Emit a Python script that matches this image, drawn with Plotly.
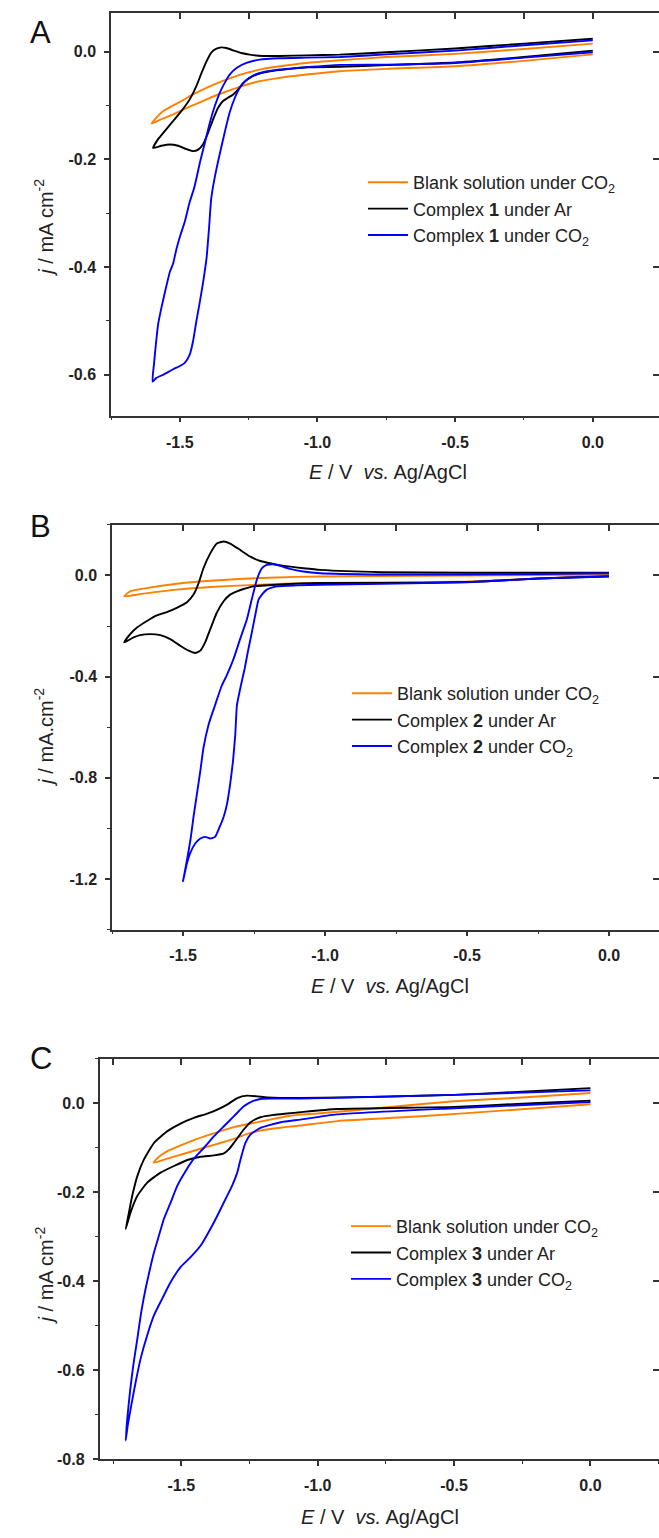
import plotly.graph_objects as go

# ---------------- DATA ----------------
# Panel A  (E in V vs Ag/AgCl, j in mA cm^-2)
a_blank_E = [0.0, -0.25, -0.5, -0.75, -0.919, -1.040, -1.137, -1.210, -1.282, -1.343, -1.403, -1.464, -1.524, -1.573, -1.603,
             -1.585, -1.560, -1.524, -1.488, -1.452, -1.403, -1.355, -1.306, -1.258, -1.198, -1.137, -1.040, -0.919, -0.75, -0.5, -0.25, 0.0]
a_blank_j = [-0.005, -0.017, -0.027, -0.032, -0.0363, -0.0425, -0.0486, -0.0548, -0.0653, -0.0763, -0.0886, -0.1022, -0.1163, -0.1268, -0.1336,
             -0.1225, -0.1102, -0.0997, -0.0899, -0.0794, -0.0671, -0.0566, -0.0474, -0.0394, -0.0320, -0.0271, -0.0209, -0.016, -0.010, -0.004, 0.005, 0.015]

a_ar_E = [0.0, -0.25, -0.5, -0.75, -0.919, -1.040, -1.101, -1.161, -1.210, -1.246, -1.270, -1.288, -1.306, -1.325, -1.343, -1.361, -1.379, -1.397,
          -1.415, -1.433, -1.452, -1.476, -1.506, -1.536, -1.567, -1.597,
          -1.579, -1.554, -1.524, -1.494, -1.464, -1.440, -1.421, -1.403, -1.385, -1.367, -1.349, -1.331, -1.306, -1.276, -1.246, -1.198,
          -1.137, -1.040, -0.919, -0.75, -0.5, -0.25, 0.0]
a_ar_j = [0.002, -0.010, -0.020, -0.025, -0.028, -0.029, -0.032, -0.0357, -0.0406, -0.0486, -0.0579, -0.0702, -0.0794, -0.0856, -0.0917, -0.104, -0.1256, -0.150,
          -0.1717, -0.182, -0.1847, -0.181, -0.1748, -0.1724, -0.1748, -0.179,
          -0.1625, -0.147, -0.1287, -0.110, -0.0886, -0.064, -0.0394, -0.0179, -0.0012, 0.0055, 0.008, 0.0068, 0.0025, -0.0025, -0.0055, -0.008,
          -0.008, -0.0068, -0.0055, -0.001, 0.006, 0.015, 0.024]

a_co2_E = [0.0, -0.25, -0.5, -0.75, -0.919, -1.040, -1.137, -1.198, -1.234, -1.258, -1.282, -1.300, -1.319, -1.337, -1.355, -1.373, -1.386, -1.394,
           -1.403, -1.415, -1.427, -1.440, -1.452, -1.464, -1.482, -1.500, -1.524, -1.560, -1.585, -1.599,
           -1.594, -1.587, -1.579, -1.567, -1.551, -1.536, -1.524, -1.512, -1.498, -1.482, -1.464, -1.449, -1.440, -1.427, -1.409, -1.391,
           -1.373, -1.355, -1.337, -1.319, -1.294, -1.258, -1.210, -1.137, -1.040, -0.919, -0.75, -0.5, -0.25, 0.0]
a_co2_j = [-0.001, -0.011, -0.021, -0.024, -0.0246, -0.0289, -0.0332, -0.0382, -0.0443, -0.0529, -0.0671, -0.0856, -0.113, -0.150, -0.190, -0.233, -0.273, -0.329,
           -0.384, -0.427, -0.464, -0.501, -0.538, -0.563, -0.578, -0.584, -0.590, -0.600, -0.606, -0.613,
           -0.581, -0.544, -0.507, -0.476, -0.440, -0.409, -0.393, -0.366, -0.341, -0.316, -0.279, -0.255, -0.236, -0.206, -0.169, -0.132,
           -0.101, -0.0763, -0.0579, -0.0425, -0.0302, -0.0209, -0.0148, -0.0123, -0.0111, -0.0098, -0.005, 0.002, 0.012, 0.021]

# Panel B
b_blank_E = [0.0, -0.25, -0.5, -0.8, -1.017, -1.170, -1.287, -1.404, -1.522, -1.639, -1.707,
             -1.686, -1.639, -1.522, -1.404, -1.287, -1.170, -1.017, -0.8, -0.5, -0.25, 0.0]
b_blank_j = [0.0, -0.012, -0.024, -0.028, -0.030, -0.0339, -0.0391, -0.0456, -0.056, -0.0717, -0.0821,
             -0.0626, -0.0521, -0.0326, -0.0209, -0.0130, -0.0078, -0.0039, -0.002, 0.0, 0.002, 0.004]

b_ar_E = [0.0, -0.25, -0.5, -0.8, -1.017, -1.170, -1.252, -1.287, -1.310, -1.334, -1.357, -1.381, -1.404, -1.422, -1.439, -1.457, -1.480,
          -1.510, -1.545, -1.580, -1.615, -1.651, -1.674, -1.707,
          -1.686, -1.662, -1.627, -1.592, -1.557, -1.522, -1.486, -1.463, -1.445, -1.428, -1.404, -1.381, -1.357, -1.334, -1.298, -1.263,
          -1.228, -1.193, -1.146, -1.076, -1.017, -0.8, -0.5, -0.25, 0.0]
b_ar_j = [-0.003, -0.012, -0.026, -0.030, -0.030, -0.0365, -0.043, -0.0534, -0.0626, -0.0756, -0.1017, -0.1473, -0.2124, -0.2646, -0.2972, -0.3063, -0.2972,
          -0.2776, -0.2515, -0.2359, -0.2320, -0.2359, -0.245, -0.2646,
          -0.232, -0.206, -0.180, -0.158, -0.1447, -0.1277, -0.1056, -0.0756, -0.030, 0.0287, 0.0873, 0.1264, 0.1342, 0.1264, 0.1004, 0.0743,
          0.0573, 0.0482, 0.0378, 0.0287, 0.0222, 0.013, 0.011, 0.011, 0.011]

b_co2_E = [0.0, -0.25, -0.5, -0.8, -1.017, -1.099, -1.170, -1.205, -1.222, -1.234, -1.244, -1.260, -1.272, -1.283, -1.296, -1.310, -1.316,
           -1.324, -1.334, -1.345, -1.357, -1.371, -1.387, -1.404, -1.422, -1.439, -1.457, -1.475, -1.486, -1.500,
           -1.486, -1.474, -1.463, -1.451, -1.439, -1.428, -1.410, -1.387, -1.363, -1.346, -1.322, -1.299, -1.275, -1.258, -1.240, -1.222,
           -1.205, -1.181, -1.158, -1.123, -1.076, -1.017, -0.8, -0.5, -0.25, 0.0]
b_co2_j = [-0.004, -0.012, -0.027, -0.033, -0.0365, -0.0391, -0.043, -0.056, -0.0756, -0.095, -0.1473, -0.2385, -0.3037, -0.3689, -0.434, -0.512, -0.6295,
           -0.734, -0.825, -0.903, -0.955, -0.9945, -1.0335, -1.040, -1.0335, -1.040, -1.060, -1.099, -1.138, -1.209,
           -1.125, -1.047, -0.955, -0.864, -0.773, -0.682, -0.590, -0.512, -0.434, -0.395, -0.330, -0.2515, -0.173, -0.095, -0.017, 0.0287,
           0.0417, 0.0443, 0.0378, 0.026, 0.0156, 0.0091, 0.004, 0.004, 0.006, 0.009]

# Panel C
c_blank_E = [0.0, -0.312, -0.62, -0.928, -1.063, -1.112, -1.161, -1.210, -1.258, -1.307, -1.368, -1.429, -1.490, -1.551, -1.602,
             -1.582, -1.551, -1.503, -1.454, -1.405, -1.356, -1.307, -1.246, -1.185, -1.112, -1.063, -1.0, -0.774, -0.5, -0.236, 0.0]
c_blank_j = [-0.002, -0.016, -0.029, -0.040, -0.050, -0.053, -0.0567, -0.0611, -0.0686, -0.0798, -0.091, -0.1021, -0.1133, -0.1245, -0.1334,
             -0.120, -0.1073, -0.0947, -0.0828, -0.0723, -0.0626, -0.0537, -0.0455, -0.0381, -0.0291, -0.0254, -0.023, -0.0105, 0.0045, 0.0134, 0.023]

c_ar_E = [0.0, -0.25, -0.5, -0.93, -1.063, -1.112, -1.161, -1.210, -1.246, -1.271, -1.289, -1.307, -1.326, -1.344, -1.380, -1.429, -1.478,
          -1.527, -1.576, -1.625, -1.661, -1.686, -1.704,
          -1.692, -1.680, -1.661, -1.637, -1.600, -1.551, -1.503, -1.454, -1.405, -1.368, -1.332, -1.295, -1.259, -1.222, -1.185, -1.063,
          -0.75, -0.5, -0.25, 0.0]
c_ar_j = [0.006, -0.001, -0.008, -0.013, -0.020, -0.023, -0.026, -0.0314, -0.0425, -0.0589, -0.0738, -0.0887, -0.1036, -0.1125, -0.117, -0.120, -0.1274,
          -0.1409, -0.1557, -0.1781, -0.2079, -0.245, -0.2824,
          -0.245, -0.2079, -0.163, -0.126, -0.0887, -0.0626, -0.0455, -0.0328, -0.0232, -0.0142, -0.0031, 0.0118, 0.0171, 0.0156, 0.0133, 0.0118,
          0.015, 0.019, 0.026, 0.034]

c_co2_E = [0.0, -0.5, -0.93, -1.063, -1.136, -1.210, -1.246, -1.265, -1.283, -1.295, -1.314, -1.332, -1.350, -1.368, -1.387, -1.429, -1.466,
           -1.503, -1.539, -1.570, -1.600, -1.625, -1.649, -1.667, -1.683, -1.696, -1.704,
           -1.698, -1.688, -1.676, -1.661, -1.647, -1.631, -1.612, -1.600, -1.582, -1.564, -1.539, -1.515, -1.484, -1.454, -1.417, -1.380,
           -1.344, -1.307, -1.271, -1.240, -1.210, -1.161, -1.063, -0.5, 0.0]
c_co2_j = [0.003, -0.011, -0.025, -0.0366, -0.0425, -0.0552, -0.070, -0.0887, -0.126, -0.1558, -0.1856, -0.2079, -0.2302, -0.2526, -0.275, -0.3196, -0.3457,
           -0.368, -0.4016, -0.4388, -0.476, -0.521, -0.573, -0.625, -0.677, -0.722, -0.7577,
           -0.707, -0.647, -0.588, -0.528, -0.469, -0.4165, -0.3643, -0.3345, -0.2972, -0.260, -0.2228, -0.1855, -0.152, -0.1245, -0.0999, -0.0738,
           -0.0515, -0.029, -0.0068, 0.0044, 0.0096, 0.0104, 0.0104, 0.019, 0.029]

# tick labels
x_tickvals = [-1.5, -1.0, -0.5, 0.0]
x_ticktext = ["-1.5", "-1.0", "-0.5", "0.0"]
a_ytickvals = [0.0, -0.2, -0.4, -0.6]
a_yticktext = ["0.0", "-0.2", "-0.4", "-0.6"]
b_ytickvals = [0.0, -0.4, -0.8, -1.2]
b_yticktext = ["0.0", "-0.4", "-0.8", "-1.2"]
c_ytickvals = [0.0, -0.2, -0.4, -0.6, -0.8]
c_yticktext = ["0.0", "-0.2", "-0.4", "-0.6", "-0.8"]

legend_a = ["Blank solution under CO<sub>2</sub>", "Complex <b>1</b> under Ar", "Complex <b>1</b> under CO<sub>2</sub>"]
legend_b = ["Blank solution under CO<sub>2</sub>", "Complex <b>2</b> under Ar", "Complex <b>2</b> under CO<sub>2</sub>"]
legend_c = ["Blank solution under CO<sub>2</sub>", "Complex <b>3</b> under Ar", "Complex <b>3</b> under CO<sub>2</sub>"]

# ---------------- STYLE / LAYOUT ----------------
W, H = 659, 1538
FONT = "Liberation Sans, Arial, sans-serif"
AXC = "#333333"
COLORS = ["#FF8000", "#000000", "#0000FF"]


def px(v):
    return v / W


def py(v):
    return 1 - v / H


panels = [
    dict(series=[(a_blank_E, a_blank_j), (a_ar_E, a_ar_j), (a_co2_E, a_co2_j)], names=legend_a,
         xdom=(111, 659), ydom=(13, 418), xr=[-1.75, 0.2406], yr=[-0.676, 0.072],
         yv=a_ytickvals, yt=a_yticktext, ymin=0.1, letter="A", letter_xy=(40, 33),
         ytitle="<i>j</i> / mA cm<sup>-2</sup>", ytitle_y=229, xtitle_xy=(388, 475),
         leg_xy=(363, 165)),
    dict(series=[(b_blank_E, b_blank_j), (b_ar_E, b_ar_j), (b_co2_E, b_co2_j)], names=legend_b,
         xdom=(112, 659), ydom=(528, 935), xr=[-1.75, 0.176], yr=[-1.4, 0.2],
         yv=b_ytickvals, yt=b_yticktext, ymin=0.2, letter="B", letter_xy=(40, 530),
         ytitle="<i>j</i> / mA.cm<sup>-2</sup>", ytitle_y=742, xtitle_xy=(390, 992),
         leg_xy=(347, 679)),
    dict(series=[(c_blank_E, c_blank_j), (c_ar_E, c_ar_j), (c_co2_E, c_co2_j)], names=legend_c,
         xdom=(99.5, 659), ydom=(1065, 1468), xr=[-1.8, 0.2514], yr=[-0.8, 0.1],
         yv=c_ytickvals, yt=c_yticktext, ymin=0.1, letter="C", letter_xy=(41, 1065),
         ytitle="<i>j</i> / mA cm<sup>-2</sup>", ytitle_y=1283, xtitle_xy=(380, 1526),
         leg_xy=(346, 1215)),
]

fig = go.Figure()
layout = dict(width=W, height=H, margin=dict(l=0, r=0, t=0, b=0),
              paper_bgcolor="white", plot_bgcolor="white", showlegend=True,
              font=dict(family=FONT, color="#222222"))
annotations = []
tickfont = dict(family=FONT, size=16, color="#222222", weight="bold")

for i, p in enumerate(panels):
    n = i + 1
    xb, yl = f"x{n if n > 1 else ''}", f"y{n if n > 1 else ''}"
    xt, yr_ = f"x{n + 3}", f"y{n + 3}"
    leg = "legend" if n == 1 else f"legend{n}"
    for (E, j), name, col in zip(p["series"], p["names"], COLORS):
        fig.add_trace(go.Scatter(x=E, y=j, mode="lines", name=name, xaxis=xb, yaxis=yl,
                                 line=dict(color=col, width=1.9, shape="spline", smoothing=0.5),
                                 legend=leg))
    # dummy traces so mirror axes exist
    fig.add_trace(go.Scatter(x=[None], y=[None], xaxis=xt, yaxis=yl, showlegend=False, hoverinfo="skip"))
    fig.add_trace(go.Scatter(x=[None], y=[None], xaxis=xb, yaxis=yr_, showlegend=False, hoverinfo="skip"))

    xdom = [px(p["xdom"][0]), px(p["xdom"][1])]
    ydom = [py(p["ydom"][1]), py(p["ydom"][0])]
    xkey = "xaxis" if n == 1 else f"xaxis{n}"
    ykey = "yaxis" if n == 1 else f"yaxis{n}"
    layout[xkey] = dict(domain=xdom, anchor=yl, range=p["xr"], showgrid=False, zeroline=False,
                        showline=True, linecolor=AXC, linewidth=1.5, ticks="outside", ticklen=5,
                        tickwidth=1.5, tickcolor=AXC, tickmode="array", tickvals=x_tickvals,
                        ticktext=x_ticktext, tickfont=tickfont, ticklabelstandoff=6,
                        minor=dict(ticks="outside", ticklen=3, tickwidth=1.2, tickcolor=AXC,
                                   tickmode="linear", tick0=0, dtick=0.25, showgrid=False))
    layout[ykey] = dict(domain=ydom, anchor=xb, range=p["yr"], showgrid=False, zeroline=False,
                        showline=True, linecolor=AXC, linewidth=1.5, ticks="outside", ticklen=5,
                        tickwidth=1.5, tickcolor=AXC, tickmode="array", tickvals=p["yv"],
                        ticktext=p["yt"], tickfont=tickfont, ticklabelstandoff=5,
                        minor=dict(ticks="outside", ticklen=3, tickwidth=1.2, tickcolor=AXC,
                                   tickmode="linear", tick0=0, dtick=p["ymin"], showgrid=False))
    layout[f"xaxis{n + 3}"] = dict(domain=xdom, anchor=yl, overlaying=xb, side="top", range=p["xr"],
                                   showgrid=False, zeroline=False, showline=True, linecolor=AXC,
                                   linewidth=1.5, ticks="inside", ticklen=6, tickwidth=1.5,
                                   tickcolor=AXC, tickmode="linear", tick0=0, dtick=0.25,
                                   showticklabels=False)
    layout[f"yaxis{n + 3}"] = dict(domain=ydom, anchor=xb, overlaying=yl, side="right", range=p["yr"],
                                   showgrid=False, zeroline=False, showline=False, ticks="inside",
                                   ticklen=6, tickwidth=1.5, tickcolor=AXC, tickmode="array",
                                   tickvals=p["yv"], showticklabels=False)
    layout[leg] = dict(x=px(p["leg_xy"][0]), y=py(p["leg_xy"][1]), xanchor="left", yanchor="top",
                       bgcolor="rgba(0,0,0,0)", borderwidth=0, tracegroupgap=0, itemwidth=40,
                       font=dict(family=FONT, size=18, color="#222222"), traceorder="normal")
    lx, ly = p["letter_xy"]
    annotations.append(dict(text=p["letter"], x=px(lx), y=py(ly), xref="paper", yref="paper",
                            showarrow=False, xanchor="center", yanchor="middle",
                            font=dict(family=FONT, size=31, color="#111111")))
    annotations.append(dict(text=p["ytitle"], x=px(44), y=py(p["ytitle_y"]), xref="paper", yref="paper",
                            showarrow=False, textangle=-90, xanchor="center", yanchor="middle",
                            font=dict(family=FONT, size=20, color="#222222")))
    tx, ty = p["xtitle_xy"]
    annotations.append(dict(text="<i>E</i> / V  <i>vs.</i> Ag/AgCl", x=px(tx), y=py(ty), xref="paper",
                            yref="paper", showarrow=False, xanchor="center", yanchor="middle",
                            font=dict(family=FONT, size=20, color="#222222")))

layout["annotations"] = annotations
fig.update_layout(**layout)
fig.write_html("out.html")
